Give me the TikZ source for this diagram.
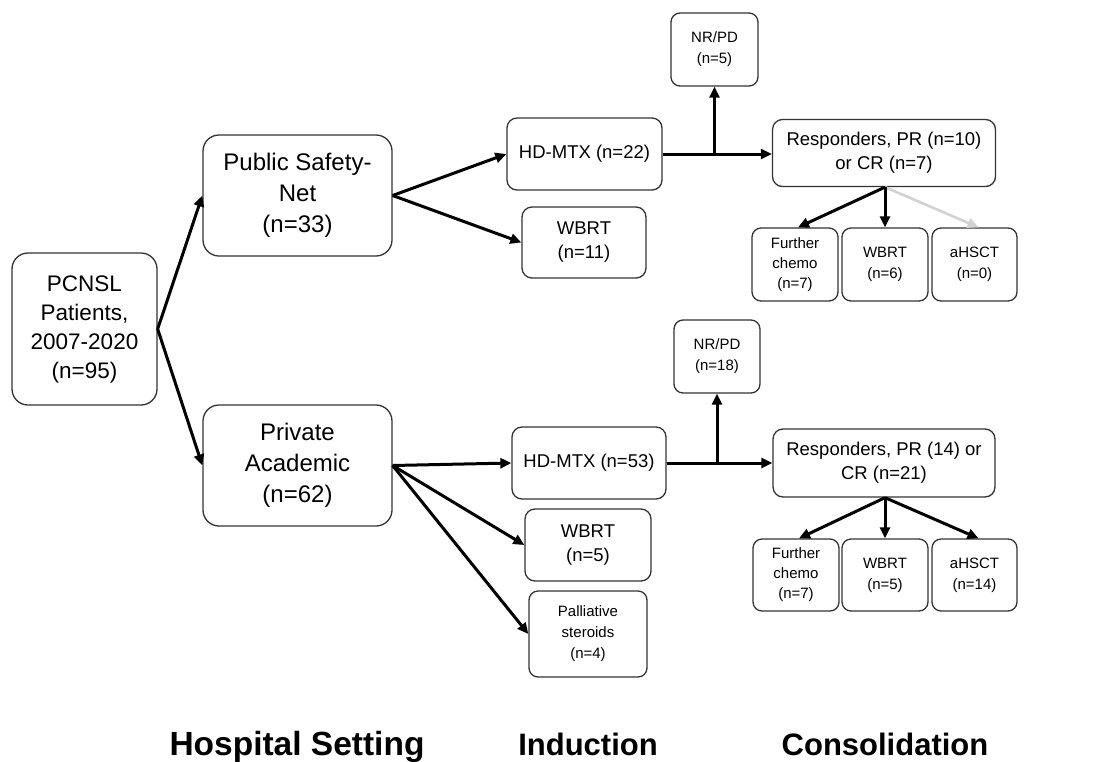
\documentclass[tikz,border=0pt]{standalone}
\usepackage{fontspec}
\setmainfont{Liberation Sans}
\usetikzlibrary{arrows.meta}
\definecolor{boxline}{HTML}{333333}
\definecolor{faint}{HTML}{D2D2D2}
\begin{document}
\begin{tikzpicture}[x=1pt,y=-1pt,
  box/.style={draw=boxline,line width=1.3pt,align=center,inner sep=0pt,fill=white},
  bigbox/.style={box,rounded corners=16pt,font=\fontsize{24}{31}\selectfont},
  medbox/.style={box,rounded corners=10pt,font=\fontsize{18.5}{24}\selectfont},
  smallbox/.style={box,rounded corners=9pt,font=\fontsize{15}{21}\selectfont},
  arr/.style={line width=3pt,-{Triangle[length=11pt,width=10pt]}},
  faintarr/.style={line width=2.6pt,draw=faint,-{Triangle[length=11pt,width=10pt]}},
  heading/.style={font=\bfseries\fontsize{31}{36}\selectfont,anchor=base}
]
\fill[white] (0,0) rectangle (1095,761);
\useasboundingbox (0,0) rectangle (1095,761);

% nodes
\node[bigbox,minimum width=145pt,minimum height=152pt,font=\fontsize{22.5}{29}\selectfont] (pcnsl) at (84.5,329) {PCNSL\\Patients,\\2007-2020\\(n=95)};
\node[bigbox,minimum width=189pt,minimum height=121pt] (public) at (297.5,195.5) {Public Safety-\\Net\\(n=33)};
\node[bigbox,minimum width=189pt,minimum height=121pt] (private) at (297.5,465.5) {Private\\Academic\\(n=62)};

\node[medbox,minimum width=155pt,minimum height=72pt] (hd1) at (584.5,154) {HD-MTX (n=22)};
\node[medbox,minimum width=124pt,minimum height=71pt] (wbrt1) at (584,242.5) {WBRT\\(n=11)};
\node[smallbox,minimum width=87pt,minimum height=73pt] (nrpd1) at (714.5,49.5) {NR/PD\\(n=5)};
\node[medbox,minimum width=223pt,minimum height=67pt] (resp1) at (884,153) {Responders, PR (n=10)\\or CR (n=7)};
\node[smallbox,minimum width=86pt,minimum height=73pt,font=\fontsize{15}{20}\selectfont] (fc1) at (795,264.5) {Further\\chemo\\(n=7)};
\node[smallbox,minimum width=86pt,minimum height=73pt] (wbc1) at (885,264.5) {WBRT\\(n=6)};
\node[smallbox,minimum width=85pt,minimum height=73pt] (ah1) at (974.5,264.5) {aHSCT\\(n=0)};

\node[smallbox,minimum width=86pt,minimum height=73pt] (nrpd2) at (717,356.5) {NR/PD\\(n=18)};
\node[medbox,minimum width=154pt,minimum height=72pt] (hd2) at (589,463) {HD-MTX (n=53)};
\node[medbox,minimum width=126pt,minimum height=72pt] (wbrt2) at (588,545) {WBRT\\(n=5)};
\node[smallbox,minimum width=118pt,minimum height=86pt] (pal) at (588,634) {Palliative\\steroids\\(n=4)};
\node[medbox,minimum width=222pt,minimum height=68pt] (resp2) at (884,463) {Responders, PR (14) or\\CR (n=21)};
\node[smallbox,minimum width=86pt,minimum height=72pt,font=\fontsize{15}{20}\selectfont] (fc2) at (796,575) {Further\\chemo\\(n=7)};
\node[smallbox,minimum width=86pt,minimum height=72pt] (wbc2) at (885,575) {WBRT\\(n=5)};
\node[smallbox,minimum width=85pt,minimum height=72pt] (ah2) at (974.5,575) {aHSCT\\(n=14)};

% headings
\node[heading,font=\bfseries\fontsize{33.5}{36}\selectfont] (lab1) at (297,755) {Hospital Setting};
\node[heading] (lab2) at (588,755) {Induction};
\node[heading] (lab3) at (885,755) {Consolidation};

% connectors
\draw[arr] (pcnsl.east) -- (public.west);
\draw[arr] (pcnsl.east) -- (private.west);

\draw[arr] (public.east) -- (hd1.west);
\draw[arr] (public.east) -- (wbrt1.west);

\draw[arr] (private.east) -- (hd2.west);
\draw[arr] (private.east) -- (wbrt2.west);
\draw[arr] (private.east) -- (pal.west);

\coordinate (j1) at (nrpd1.south |- hd1.east);
\draw[arr] (hd1.east) -- (hd1.east -| resp1.west);
\draw[arr] (j1) -- (nrpd1.south);

\coordinate (j2) at (nrpd2.south |- hd2.east);
\draw[arr] (hd2.east) -- (hd2.east -| resp2.west);
\draw[arr] (j2) -- (nrpd2.south);

\coordinate (s1) at (wbc1.north |- resp1.south);
\draw[faintarr] (s1) -- ([xshift=4pt]ah1.north);
\draw[arr] (s1) -- ([xshift=3pt]fc1.north);
\draw[arr] (s1) -- (wbc1.north);

\coordinate (s2) at (wbc2.north |- resp2.south);
\draw[arr] (s2) -- ([xshift=3pt]fc2.north);
\draw[arr] (s2) -- (wbc2.north);
\draw[arr] (s2) -- ([xshift=4pt]ah2.north);
\end{tikzpicture}
\end{document}
